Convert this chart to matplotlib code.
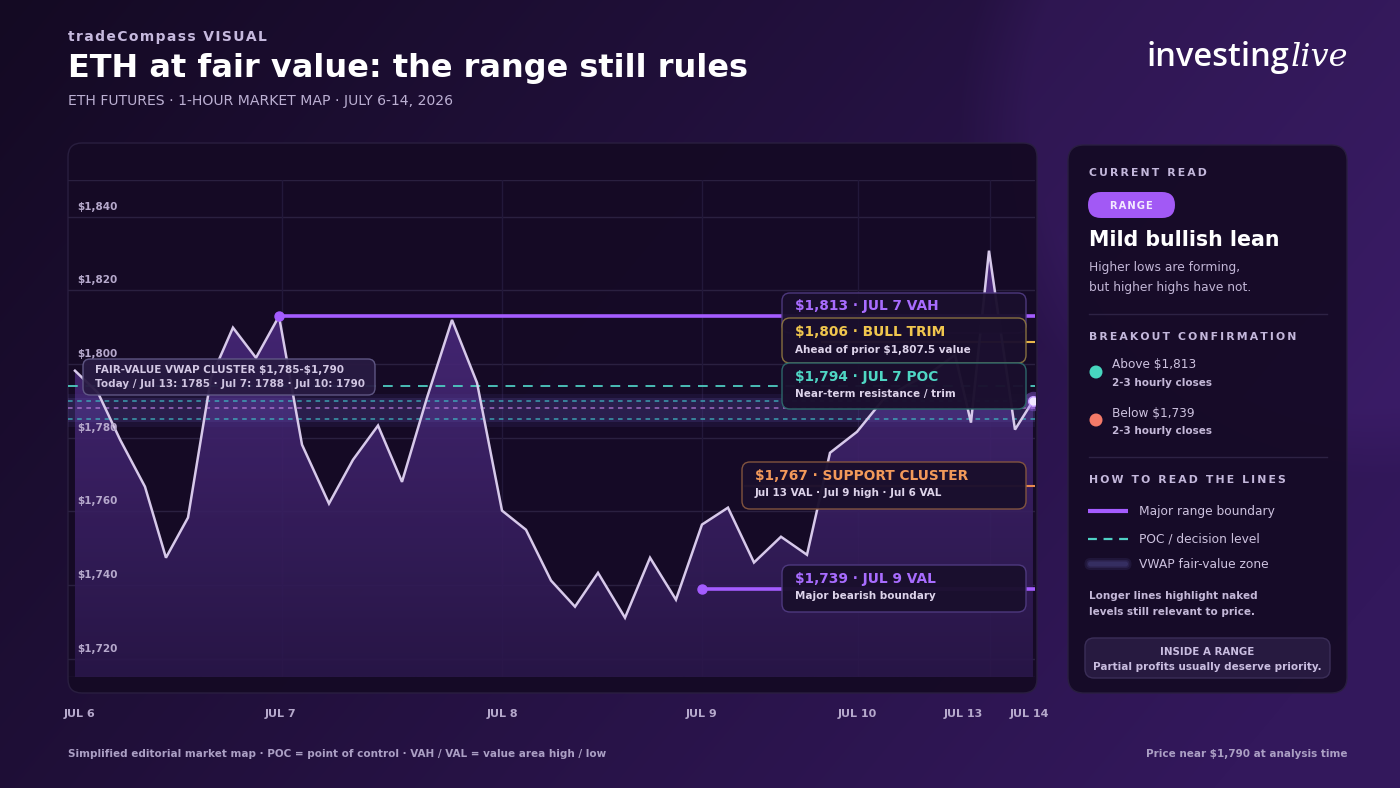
import numpy as np
import matplotlib
matplotlib.use("Agg")
import matplotlib.pyplot as plt
from matplotlib.patches import FancyBboxPatch, Circle
import matplotlib.transforms as mtransforms

# ---------------- data ----------------
# timeline position (0-100 % of the session map) and ETH price
x_pos = [0.72, 3.10, 5.38, 7.96, 10.13, 12.41, 14.79, 17.06, 19.44, 21.82,
         24.20, 26.99, 29.47, 32.06, 34.54, 37.13, 39.71, 42.30, 44.88, 47.36,
         49.95, 52.43, 54.81, 57.60, 60.19, 62.87, 65.56, 68.25, 70.94, 73.73,
         76.42, 78.80, 81.59, 84.28, 86.87, 89.35, 91.73, 93.38, 95.24, 97.93, 99.79]
price = [1798.2, 1792.2, 1779.5, 1766.7, 1747.4, 1758.3, 1796.3, 1809.9, 1801.7, 1813.0,
         1778.1, 1762.1, 1774.0, 1783.3, 1768.0, 1790.9, 1812.0, 1794.9, 1760.2, 1755.0,
         1741.2, 1734.1, 1743.3, 1731.1, 1747.4, 1736.0, 1756.4, 1761.0, 1746.1, 1753.1,
         1748.2, 1775.9, 1781.6, 1790.3, 1794.4, 1797.9, 1802.5, 1784.1, 1830.8, 1782.2, 1790.0]
tick_pos = [1.24, 21.92, 44.88, 65.56, 81.59, 92.55, 99.38]
tick_labels = ["JUL 6", "JUL 7", "JUL 8", "JUL 9", "JUL 10", "JUL 13", "JUL 14"]
vgrid_pos = [22.1, 44.9, 65.6, 81.7, 95.3]
y_ticks = [1720, 1740, 1760, 1780, 1800, 1820, 1840]
y_range = (1715, 1850)

VAH = 1813          # Jul 7 value area high
VAH_START = 21.82
VAL = 1739          # Jul 9 value area low
VAL_START = 65.56
POC = 1794          # Jul 7 point of control
BULL_TRIM = 1806
SUPPORT = 1767
vwap_levels = [1785, 1788, 1790]
vwap_colors = ["#3fb4c0", "#b27ad6", "#3fb4c0"]

W, H = 1400, 788
FONT = "DejaVu Sans"
THIN = "\u2009"
HAIR = "\u200a"

fig = plt.figure(figsize=(W / 100, H / 100), dpi=100)

# ---------------- background ----------------
bg = fig.add_axes([0, 0, 1, 1], zorder=0)
bg.set_xlim(0, W); bg.set_ylim(H, 0); bg.axis("off")
yy, xx = np.mgrid[0:H, 0:W]
t = np.clip(xx / W * 0.75 + yy / H * 0.35, 0, 1)
c0 = np.array([0x14, 0x0a, 0x23]) / 255
c1 = np.array([0x33, 0x18, 0x5c]) / 255
img = c0 + (c1 - c0) * t[..., None]
d = np.sqrt((xx - 1330) ** 2 + (yy - 110) ** 2)
disc = np.clip(1 - (d - 300) / 70, 0, 1)
img = img + disc[..., None] * np.array([0.035, 0.018, 0.055])
bg.imshow(np.clip(img, 0, 1), extent=[0, W, H, 0], aspect="auto", zorder=0)


def rbox(axp, x, y, w, h, r, fc, ec="none", lw=1.0, alpha=1.0, z=1):
    p = FancyBboxPatch((x, y), w, h, boxstyle=f"round,pad=0,rounding_size={r}",
                       fc=fc, ec=ec, lw=lw, alpha=alpha, zorder=z)
    axp.add_patch(p)
    return p

# chart panel and right panel
rbox(bg, 68, 143, 969, 550, 14, "#150a25", ec="#2a1f40", lw=1.0, alpha=0.96)
rbox(bg, 1068, 145, 279, 548, 16, "#160b27", ec="#2a1f40", lw=1.0, alpha=0.97)

# ---------------- data axes ----------------
ax = fig.add_axes([68 / W, 1 - 677 / H, 967 / W, 497 / H], zorder=1)
ax.set_facecolor("none")
for s in ax.spines.values():
    s.set_visible(False)
ax.set_xticks([]); ax.set_yticks([])

for yt in y_ticks + list(y_range):
    ax.axhline(yt, color="#2a2040", lw=1.0, zorder=0.5)
for xv in vgrid_pos:
    ax.axvline(xv, color="#22183a", lw=1.0, zorder=0.5)

# area under price with vertical gradient
poly = ax.fill_between(x_pos, price, y_range[0], facecolor="none", edgecolor="none")
g = np.linspace(0, 1, 256)[:, None]
top_c = np.array([0x55, 0x30, 0x8e]) / 255
bot_c = np.array([0x2a, 0x17, 0x4a]) / 255
rgba = np.zeros((256, 2, 4))
rgba[..., :3] = (bot_c + (top_c - bot_c) * g[..., None])
rgba[..., 3] = 0.9
im = ax.imshow(rgba, extent=[0, 100, y_range[0], y_range[1]], origin="lower",
               aspect="auto", zorder=1)
im.set_clip_path(poly.get_paths()[0], transform=ax.transData)

# VWAP fair-value zone
ax.axhspan(min(vwap_levels) - 2.0, max(vwap_levels) + 2.0, color="#4a3d8a", alpha=0.16, lw=0, zorder=2)
ax.axhspan(min(vwap_levels) - 0.8, max(vwap_levels) + 0.8, color="#5a4ea0", alpha=0.22, lw=0, zorder=2)
for lvl, col in zip(vwap_levels, vwap_colors):
    ax.axhline(lvl, color=col, lw=1.1, ls=(0, (3, 3)), alpha=0.85, zorder=3)

# POC
ax.axhline(POC, color="#4fd1c5", lw=1.4, ls=(0, (5, 4)), alpha=0.9, zorder=3)
# short level lines
ax.plot([78, 100], [BULL_TRIM, BULL_TRIM], color="#e8b64a", lw=1.5, zorder=3)
ax.plot([70, 100], [SUPPORT, SUPPORT], color="#e8894f", lw=1.5, zorder=3)

# price line
ax.plot(x_pos, price, color="#d7c9ea", lw=1.8, zorder=5, solid_joinstyle="miter")

# VAH / VAL
ax.plot([VAH_START, 100], [VAH, VAH], color="#a45cff", lw=2.6, zorder=6, solid_capstyle="butt")
ax.plot([VAH_START], [VAH], "o", ms=6.5, color="#a45cff", zorder=7)
ax.plot([VAL_START, 100], [VAL, VAL], color="#a45cff", lw=2.6, zorder=6, solid_capstyle="butt")
ax.plot([VAL_START], [VAL], "o", ms=6.5, color="#a45cff", zorder=7)

# last price glow
ax.plot([x_pos[-1]], [price[-1]], "o", ms=14, color="#a970ff", alpha=0.35, zorder=8, mec="none")
ax.plot([x_pos[-1]], [price[-1]], "o", ms=7, color="#f1e8ff", zorder=9, mec="#c59bff", mew=1)

# y tick labels inside plot, sitting above grid lines
off = mtransforms.offset_copy(ax.transData, fig=fig, x=0, y=10, units="dots")
for yt in y_ticks:
    ax.text(0.93, yt, f"${yt:,}", transform=off, ha="left", va="center",
            fontsize=7.5, fontweight="bold", color="#b6a9cc", family=FONT, zorder=10)

ax.set_xlim(0, 100)
ax.set_ylim(*y_range)

# ---------------- foreground overlay (pixel coords) ----------------
fg = fig.add_axes([0, 0, 1, 1], zorder=2)
fg.set_xlim(0, W); fg.set_ylim(H, 0); fg.axis("off")
fg.patch.set_alpha(0)

# x tick labels
bt = mtransforms.blended_transform_factory(ax.transData, fg.transData)
for p, lab in zip(tick_pos, tick_labels):
    ax.text(p, 714, lab, transform=bt, ha="center", va="center", fontsize=8,
            fontweight="bold", color="#b6a9cc", family=FONT, clip_on=False)


def ls(s, sep=THIN):
    """letter-spaced version of a string"""
    return sep.join(s)


def txt(x, y, s, size, color, weight="normal", ha="left", family=FONT, style="normal", va="center"):
    fg.text(x, y, s, fontsize=size, color=color, fontweight=weight, ha=ha, va=va,
            family=family, style=style)

# header
txt(68, 37, ls("tradeCompass VISUAL", HAIR), 10, "#c6b9de", weight="bold")
txt(68, 68, "ETH at fair value: the range still rules", 23, "#ffffff", weight="bold")
txt(68, 101, "ETH FUTURES · 1-HOUR MARKET MAP · JULY 6-14, 2026", 10.1, "#bcb0d3")

# logo
txt(1289, 66, "investing", 23.5, "#ffffff", weight="semibold", ha="right",
    family="Open Sans", va="baseline")
txt(1291, 66, "live", 23, "#ffffff", style="italic", family="DejaVu Serif", va="baseline")

# annotation boxes
BOX_FC = "#1a0f2d"
rbox(fg, 83, 359, 292, 36, 7, "#281a42", ec="#625a88", lw=1.0, alpha=0.95)
txt(95, 370, r"FAIR-VALUE VWAP CLUSTER \$1,785-\$1,790", 7.5, "#d3c8e4", weight="bold")
txt(95, 384, "Today / Jul 13: 1785 · Jul 7: 1788 · Jul 10: 1790", 7.5, "#cfc4e0", weight="bold")

rbox(fg, 782, 293, 244, 40, 8, BOX_FC, ec="#4f3a80", lw=1.0, alpha=0.96)
txt(795, 306, "$1,813 · JUL 7 VAH", 9.9, "#a86cff", weight="bold")

rbox(fg, 782, 318, 244, 45, 8, BOX_FC, ec="#8a7340", lw=1.0, alpha=0.97)
txt(795, 332, "$1,806 · BULL TRIM", 9.9, "#f0c64e", weight="bold")
txt(795, 350, "Ahead of prior $1,807.5 value", 7.5, "#ddd3ea", weight="bold")

rbox(fg, 782, 363, 244, 46, 8, BOX_FC, ec="#2d6a6c", lw=1.0, alpha=0.97)
txt(795, 377, "$1,794 · JUL 7 POC", 9.9, "#4fd6c4", weight="bold")
txt(795, 394, "Near-term resistance / trim", 7.5, "#ddd3ea", weight="bold")

rbox(fg, 742, 462, 284, 47, 8, BOX_FC, ec="#85563f", lw=1.0, alpha=0.97)
txt(755, 476, "$1,767 · SUPPORT CLUSTER", 9.9, "#f2995a", weight="bold")
txt(755, 493, "Jul 13 VAL · Jul 9 high · Jul 6 VAL", 7.5, "#ddd3ea", weight="bold")

rbox(fg, 782, 565, 244, 47, 8, BOX_FC, ec="#4f3a80", lw=1.0, alpha=0.97)
txt(795, 579, "$1,739 · JUL 9 VAL", 9.9, "#a86cff", weight="bold")
txt(795, 596, "Major bearish boundary", 7.5, "#ddd3ea", weight="bold")

# ---------------- right panel ----------------
LBL = "#c4b8dc"
txt(1089, 173, ls("CURRENT READ"), 7.8, LBL, weight="bold")
rbox(fg, 1088, 192, 87, 26, 13, "#a259f5")
txt(1131.5, 205.5, ls("RANGE", HAIR), 7.2, "#f3eaff", weight="bold", ha="center")
txt(1089, 240, "Mild bullish lean", 14.8, "#ffffff", weight="bold")
txt(1089, 268, "Higher lows are forming,", 8.8, "#c2b6d6")
txt(1089, 287, "but higher highs have not.", 8.8, "#c2b6d6")
fg.plot([1089, 1327], [314, 314], color="#2d2244", lw=1)

txt(1089, 337, ls("BREAKOUT CONFIRMATION"), 7.8, LBL, weight="bold")
fg.add_patch(Circle((1096, 372), 6.5, fc="#47d6bf", ec="none"))
txt(1112, 364, "Above $1,813", 8.7, "#cdc2df")
txt(1112, 383, "2-3 hourly closes", 7.5, "#c4b8d8", weight="bold")
fg.add_patch(Circle((1096, 420), 6.5, fc="#f47a68", ec="none"))
txt(1112, 413, "Below $1,739", 8.7, "#cdc2df")
txt(1112, 431, "2-3 hourly closes", 7.5, "#c4b8d8", weight="bold")
fg.plot([1089, 1327], [457, 457], color="#2d2244", lw=1)

txt(1089, 480, ls("HOW TO READ THE LINES"), 7.8, LBL, weight="bold")
fg.plot([1088, 1128], [511, 511], color="#a45cff", lw=3, solid_capstyle="butt")
txt(1139, 511, "Major range boundary", 8.8, "#cdc2df")
fg.plot([1088, 1128], [539, 539], color="#4fd1c5", lw=1.6, ls=(0, (4, 3)))
txt(1139, 539, "POC / decision level", 8.8, "#cdc2df")
for k, a in [(6, 0.25), (4, 0.35), (2.5, 0.6)]:
    rbox(fg, 1088 - k + 2.5, 564 - k, 40 + 2 * k - 5, 2 * k, k, "#3e3870", alpha=a)
txt(1139, 565, "VWAP fair-value zone", 8.8, "#cdc2df")
txt(1089, 596, "Longer lines highlight naked", 7.5, "#c4b8d8", weight="bold")
txt(1089, 612, "levels still relevant to price.", 7.5, "#c4b8d8", weight="bold")

rbox(fg, 1085, 638, 245, 40, 9, "#271a40", ec="#3b2e58", lw=1.0)
txt(1207.5, 652, "INSIDE A RANGE", 7.4, "#c9bde0", weight="bold", ha="center")
txt(1207.5, 667, "Partial profits usually deserve priority.", 7.5, "#c9bde0", weight="bold", ha="center")

# footer
txt(68, 754, "Simplified editorial market map · POC = point of control · VAH / VAL = value area high / low",
    7.5, "#ab9fc4", weight="bold")
txt(1347, 754, "Price near $1,790 at analysis time", 7.5, "#ab9fc4", weight="bold", ha="right")

fig.savefig("out.png", dpi=100)
